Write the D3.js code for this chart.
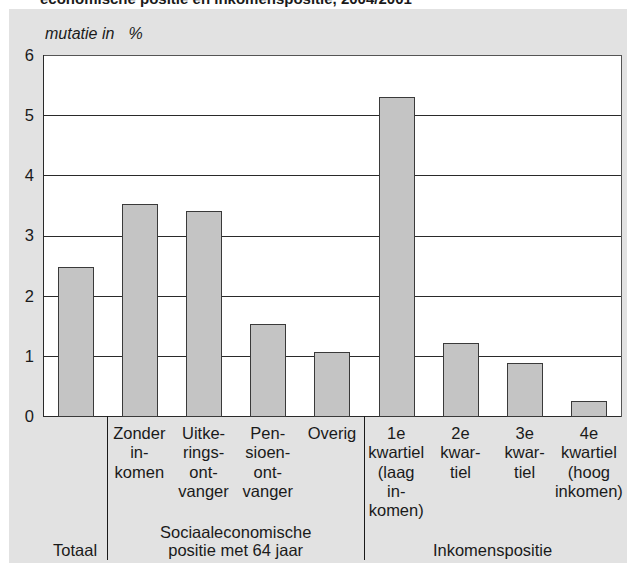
<!DOCTYPE html>
<html>
<head>
<meta charset="utf-8">
<script src="https://cdn.jsdelivr.net/npm/d3@7"></script>
<style>
  body { margin: 0; background: #fff; }
  text { font-family: "Liberation Sans", Arial, Helvetica, sans-serif; fill: #1a1a1a; }
</style>
</head>
<body>
<svg id="chart" width="627" height="565"></svg>
<script>
// data
let labels = [
  [],
  ["Zonder", "in-", "komen"],
  ["Uitke-", "rings-", "ont-", "vanger"],
  ["Pen-", "sioen-", "ont-", "vanger"],
  ["Overig"],
  ["1e", "kwartiel", "(laag", "in-", "komen)"],
  ["2e", "kwar-", "tiel"],
  ["3e", "kwar-", "tiel"],
  ["4e", "kwartiel", "(hoog", "inkomen)"]
]
let values = [2.48, 3.52, 3.41, 1.53, 1.06, 5.31, 1.22, 0.88, 0.25]
let yTicks = [0, 1, 2, 3, 4, 5, 6]
let groupNames = [["Totaal"], ["Sociaaleconomische", "positie met 64 jaar"], ["Inkomenspositie"]]
let groupStart = [0, 1, 5]
let groupEnd = [0, 4, 8]

let svg = d3.select("#chart")

// grey panel
svg.append("rect")
  .attr("x", 9).attr("y", 9)
  .attr("width", 618).attr("height", 554)
  .attr("fill", "#e2e2e2")

// title, only its lower edge is visible at the top
svg.append("text")
  .attr("x", 40).attr("y", 3.5)
  .style("font-weight", "bold")
  .style("font-size", "15px")
  .text("economische positie en inkomenspositie, 2004/2001")

let plotLeft = 43, plotRight = 621, plotTop = 55, plotBottom = 416

let x = d3.scaleBand()
  .domain(d3.range(values.length))
  .range([plotLeft, plotRight])
  .paddingInner(0.455)
  .paddingOuter(0.2275)

let y = d3.scaleLinear()
  .domain([0, 6])
  .range([plotBottom, plotTop])

let crisp = v => Math.round(v) + 0.5

// plot area
svg.append("rect")
  .attr("x", crisp(plotLeft)).attr("y", crisp(plotTop))
  .attr("width", Math.round(plotRight - plotLeft)).attr("height", Math.round(plotBottom - plotTop))
  .attr("fill", "#fff")
  .attr("stroke", "#555")

// gridlines
svg.append("g")
  .selectAll("line")
  .data(yTicks.filter(d => d > 0 && d < 6))
  .enter()
  .append("line")
  .attr("x1", plotLeft).attr("x2", plotRight)
  .attr("y1", d => crisp(y(d))).attr("y2", d => crisp(y(d)))
  .attr("stroke", "#2a2a2a")

// axis lines
svg.append("line")
  .attr("x1", crisp(plotLeft)).attr("x2", crisp(plotLeft))
  .attr("y1", plotTop).attr("y2", plotBottom)
  .attr("stroke", "#2a2a2a")
svg.append("line")
  .attr("x1", plotLeft).attr("x2", plotRight)
  .attr("y1", crisp(plotBottom)).attr("y2", crisp(plotBottom))
  .attr("stroke", "#2a2a2a")

// bars
svg.append("g")
  .selectAll("rect")
  .data(values)
  .enter()
  .append("rect")
  .attr("x", (d, i) => crisp(x(i)))
  .attr("y", d => crisp(y(d)))
  .attr("width", Math.round(x.bandwidth()))
  .attr("height", d => crisp(plotBottom) - crisp(y(d)))
  .attr("fill", "#c4c4c4")
  .attr("stroke", "#3a3a3a")

// y tick labels
svg.append("g")
  .selectAll("text")
  .data(yTicks)
  .enter()
  .append("text")
  .attr("x", 34)
  .attr("y", d => y(d))
  .attr("dy", "0.36em")
  .attr("text-anchor", "end")
  .style("font-size", "16.5px")
  .text(d => d)

// unit label
let unit = svg.append("text")
  .attr("x", 45).attr("y", 39)
  .style("font-style", "italic")
  .style("font-size", "16px")
unit.append("tspan").text("mutatie in")
unit.append("tspan").attr("dx", 14).text("%")

// category labels
let lineH = 19.3
svg.append("g")
  .selectAll("text")
  .data(labels)
  .enter()
  .append("text")
  .attr("text-anchor", "middle")
  .style("font-size", "16.5px")
  .each(function (lines, i) {
    d3.select(this)
      .selectAll("tspan")
      .data(lines)
      .enter()
      .append("tspan")
      .attr("x", x(i) + x.bandwidth() / 2)
      .attr("y", (d, j) => 439 + j * lineH)
      .text(d => d)
  })

// group separators
let step = x.step()
svg.append("g")
  .selectAll("line")
  .data([1, 5])
  .enter()
  .append("line")
  .attr("x1", d => crisp(x(d) - step * x.paddingInner() / 2))
  .attr("x2", d => crisp(x(d) - step * x.paddingInner() / 2))
  .attr("y1", plotBottom).attr("y2", 560)
  .attr("stroke", "#1a1a1a")

// group labels
svg.append("g")
  .selectAll("text")
  .data(groupNames)
  .enter()
  .append("text")
  .attr("text-anchor", "middle")
  .style("font-size", "16.5px")
  .each(function (lines, i) {
    let cx = (x(groupStart[i]) + x(groupEnd[i]) + x.bandwidth()) / 2
    d3.select(this)
      .selectAll("tspan")
      .data(lines)
      .enter()
      .append("tspan")
      .attr("x", cx)
      .attr("y", (d, j) => 556 - (lines.length - 1 - j) * 18.5)
      .text(d => d)
  })
</script>
</body>
</html>
